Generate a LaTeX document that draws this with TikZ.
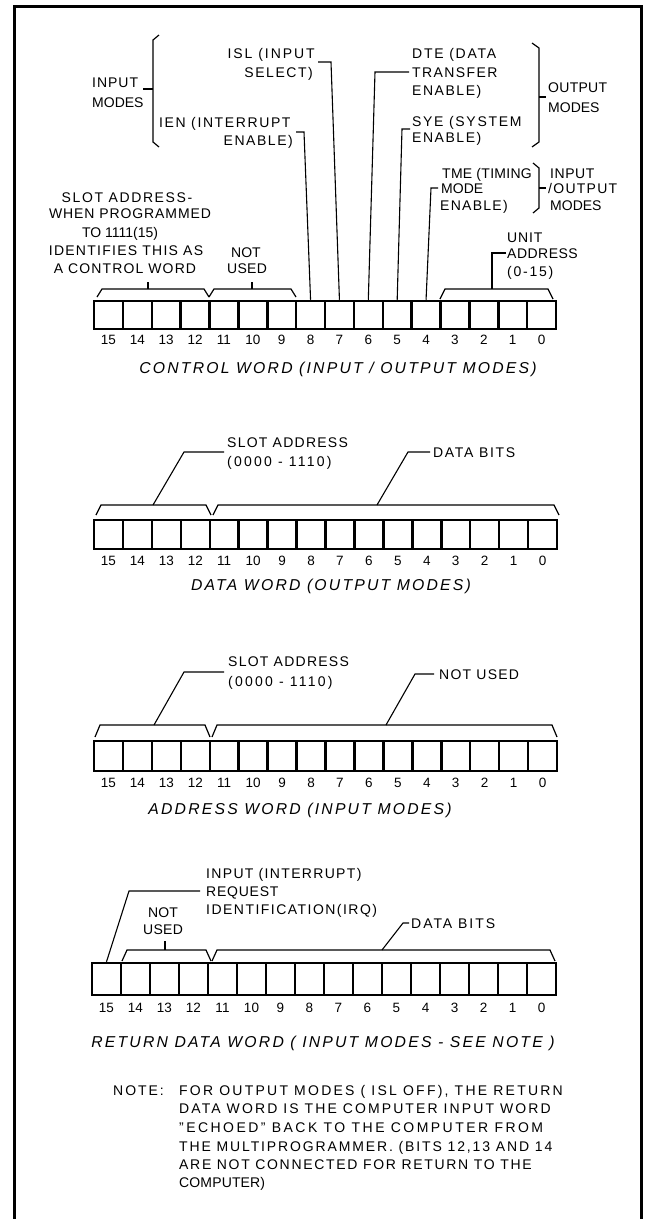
\documentclass[tikz,border=0pt]{standalone}
\usepackage{fontspec}
\setmainfont{Liberation Sans}
\newcommand{\bitreg}[6]{%
  \pgfmathsetmacro\cw{(#3-#2)/16}%
  \foreach \i in {0,...,15}{%
    \pgfmathsetmacro\cx{#2+(15-\i+0.5)*\cw}%
    \node[cell, minimum width=\cw pt, minimum height={#5-#4}] (#1-\i) at (\cx,{(#4+#5)/2}) {};
    \node[num] (#1-n\i) at (\cx,#6) {\i};
  }}
\newcommand{\regbrk}[4]{\draw[brk] (#1,#3) -- ({#1+5},#4) -- ({#2-5},#4) -- (#2,#3);}
\begin{document}
\begin{tikzpicture}[x=1pt,y=-1pt,
  lbl/.style={inner sep=0pt, font=\fontsize{14}{16}\selectfont\addfontfeature{LetterSpace=#1}},
  lbl/.default=10,
  ttl/.style={inner sep=0pt, font=\fontsize{15.75}{18}\selectfont\itshape\addfontfeature{LetterSpace=14}},
  cell/.style={draw, line width=2.5pt, inner sep=0pt},
  num/.style={inner sep=0pt, font=\fontsize{13.5}{15}\selectfont},
  lead/.style={line width=1.1pt},
  brk/.style={line width=1.2pt},
  frm/.style={line width=3pt}]
\useasboundingbox (0,0) rectangle (646,1219);
\draw[frm] (14,1219) -- (14,6) -- (641,6) -- (641,1219);

% ---------------- control word ----------------
\node[lbl=7, anchor=base west] (inp1) at (92,87) {INPUT};
\node[lbl=0, anchor=base west] (inp2) at (92,107) {MODES};
\draw[brk] (159,35) -- (153,40) -- (153,142) -- (159,147);
\coordinate (inbk) at (153,89);
\draw[lead] (inbk) -- ++(-10,0);

\node[lbl=14, anchor=base east] (isl1) at (315,58) {ISL (INPUT};
\node[lbl=11, anchor=base east] (isl2) at (313,77) {SELECT)};
\node[lbl=11.5, anchor=base west] (ien1) at (159,127) {IEN (INTERRUPT};
\node[lbl=11, anchor=base east] (ien2) at (293,145) {ENABLE)};

\node[lbl=12.5, anchor=base west] (dte1) at (412,58) {DTE (DATA};
\node[lbl=10, anchor=base west] (dte2) at (412,77) {TRANSFER};
\node[lbl=11, anchor=base west] (dte3) at (412,95) {ENABLE)};
\node[lbl=12, anchor=base west] (sye1) at (412,126) {SYE (SYSTEM};
\node[lbl=11, anchor=base west] (sye2) at (412,142) {ENABLE)};
\draw[brk] (532,43) -- (539,48) -- (539,142) -- (532,147);
\coordinate (outbk) at (539,97);
\draw[lead] (outbk) -- ++(7,0);
\node[lbl=2, anchor=base west] (out1) at (548,92) {OUTPUT};
\node[lbl=0, anchor=base west] (out2) at (548,112) {MODES};

\node[lbl=2, anchor=base west] (tme1) at (442,178) {TME (TIMING};
\node[lbl=0, anchor=base west] (tme2) at (441,193) {MODE};
\node[lbl=9, anchor=base west] (tme3) at (440,210) {ENABLE)};
\draw[brk] (533,163) -- (539,168) -- (539,208) -- (533,213);
\coordinate (iobk) at (539,188);
\draw[lead] (iobk) -- ++(7,0);
\node[lbl=4, anchor=base west] (io1) at (550,178) {INPUT};
\node[lbl=9, anchor=base west] (io2) at (548,193) {/OUTPUT};
\node[lbl=0, anchor=base west] (io3) at (550,210) {MODES};

\node[lbl=11.5, anchor=base] (sa1) at (127,202) {SLOT ADDRESS-};
\node[lbl=6.5, anchor=base] (sa2) at (130,218) {WHEN PROGRAMMED};
\node[lbl=0, anchor=base] (sa3) at (120,237) {TO 1111(15)};
\node[lbl=9, anchor=base] (sa4) at (126,255) {IDENTIFIES THIS AS};
\node[lbl=8, anchor=base] (sa5) at (125,273) {A CONTROL WORD};
\node[lbl=0, anchor=base] (nu1) at (246,257) {NOT};
\node[lbl=2, anchor=base] (nu2) at (247,273) {USED};
\node[lbl=6, anchor=base west] (ua1) at (507,242) {UNIT};
\node[lbl=3.5, anchor=base west] (ua2) at (507,258) {ADDRESS};
\node[lbl=12.5, anchor=base west] (ua3) at (507,276) {(0-15)};

\bitreg{A}{94}{556}{301}{329}{340}
\regbrk{97}{209}{297}{289}
\regbrk{209}{296}{297}{289}
\regbrk{440}{553}{299}{289}
\coordinate (aslot) at (148,289);
\coordinate (anu) at (252,289);
\coordinate (aunit) at (492,289);
\draw[lead] (aslot) -- ++(0,-7);
\draw[lead] (anu) -- ++(0,-7);
\draw[lead] (506,253) -- (492,253) -- (aunit);

\draw[lead] (318,62) -- (331,62) -- (A-7.north);
\draw[lead] (296,132) -- (304,132) -- (A-8.north);
\draw[lead] (409,72) -- (375,72) -- (A-6.north);
\draw[lead] (410,129) -- (402,129) -- (A-5.north);
\draw[lead] (438,188) -- (431,188) -- (A-4.north);

\node[ttl] (tA) at (338,369) {CONTROL WORD (INPUT / OUTPUT MODES)};

% ---------------- data word ----------------
\node[lbl=9, anchor=base west] (dsa1) at (227,447) {SLOT ADDRESS};
\node[lbl=16, anchor=base west] (dsa2) at (227,466) {(0000 - 1110)};
\node[lbl=12, anchor=base west] (ddb) at (433,457) {DATA BITS};
\bitreg{B}{94}{557}{520}{549}{561}
\regbrk{96}{211}{515}{505}
\regbrk{213}{559}{515}{505}
\coordinate (bslot) at (153,505);
\coordinate (bdata) at (377,505);
\draw[lead] (224,452) -- (184,452) -- (bslot);
\draw[lead] (430,452) -- (408,452) -- (bdata);
\node[ttl] (tB) at (331,586) {DATA WORD (OUTPUT MODES)};

% ---------------- address word ----------------
\node[lbl=9, anchor=base west] (csa1) at (228,666) {SLOT ADDRESS};
\node[lbl=16, anchor=base west] (csa2) at (228,686) {(0000 - 1110)};
\node[lbl=9, anchor=base west] (cnu) at (439,679) {NOT USED};
\bitreg{C}{94}{557}{741}{771}{783}
\regbrk{95}{210}{737}{725}
\regbrk{212}{557}{737}{725}
\coordinate (cslot) at (154,725);
\coordinate (cnot) at (386,725);
\draw[lead] (224,672) -- (184,672) -- (cslot);
\draw[lead] (434,674) -- (415,674) -- (cnot);
\node[ttl] (tC) at (300,810) {ADDRESS WORD (INPUT MODES)};

% ---------------- return data word ----------------
\node[lbl=9.5, anchor=base west] (irq1) at (206,878) {INPUT (INTERRUPT)};
\node[lbl=5.5, anchor=base west] (irq2) at (206,896) {REQUEST};
\node[lbl=10.5, anchor=base west] (irq3) at (206,914) {IDENTIFICATION(IRQ)};
\node[lbl=1, anchor=base] (dnu1) at (163,917) {NOT};
\node[lbl=2, anchor=base] (dnu2) at (163,934) {USED};
\node[lbl=14, anchor=base west] (ddb2) at (411,928) {DATA BITS};
\bitreg{D}{92}{556}{963}{995}{1008}
\regbrk{122}{211}{961}{950}
\regbrk{212}{555}{961}{950}
\coordinate (dnot) at (165,950);
\coordinate (ddata) at (382,950);
\draw[lead] (200,891) -- (129,891) -- (D-15.north);
\draw[lead] (dnot) -- ++(0,-9);
\draw[lead] (409,923) -- (403,923) -- (ddata);
\node[ttl] (tD) at (323,1043) {RETURN DATA WORD ( INPUT MODES - SEE NOTE )};

% ---------------- note ----------------
\node[lbl=14, anchor=base west] (note0) at (113,1095) {NOTE:};
\node[lbl=16, anchor=base west] (note1) at (179,1095) {FOR OUTPUT MODES ( ISL OFF), THE RETURN};
\node[lbl=15, anchor=base west] (note2) at (179,1113) {DATA WORD IS THE COMPUTER INPUT WORD};
\node[lbl=17.5, anchor=base west] (note3) at (179,1132) {"ECHOED" BACK TO THE COMPUTER FROM};
\node[lbl=13.3, anchor=base west] (note4) at (179,1151) {THE MULTIPROGRAMMER. (BITS 12,13 AND 14};
\node[lbl=12, anchor=base west] (note5) at (179,1169) {ARE NOT CONNECTED FOR RETURN TO THE};
\node[lbl=1, anchor=base west] (note6) at (179,1187) {COMPUTER)};
\end{tikzpicture}
\end{document}
